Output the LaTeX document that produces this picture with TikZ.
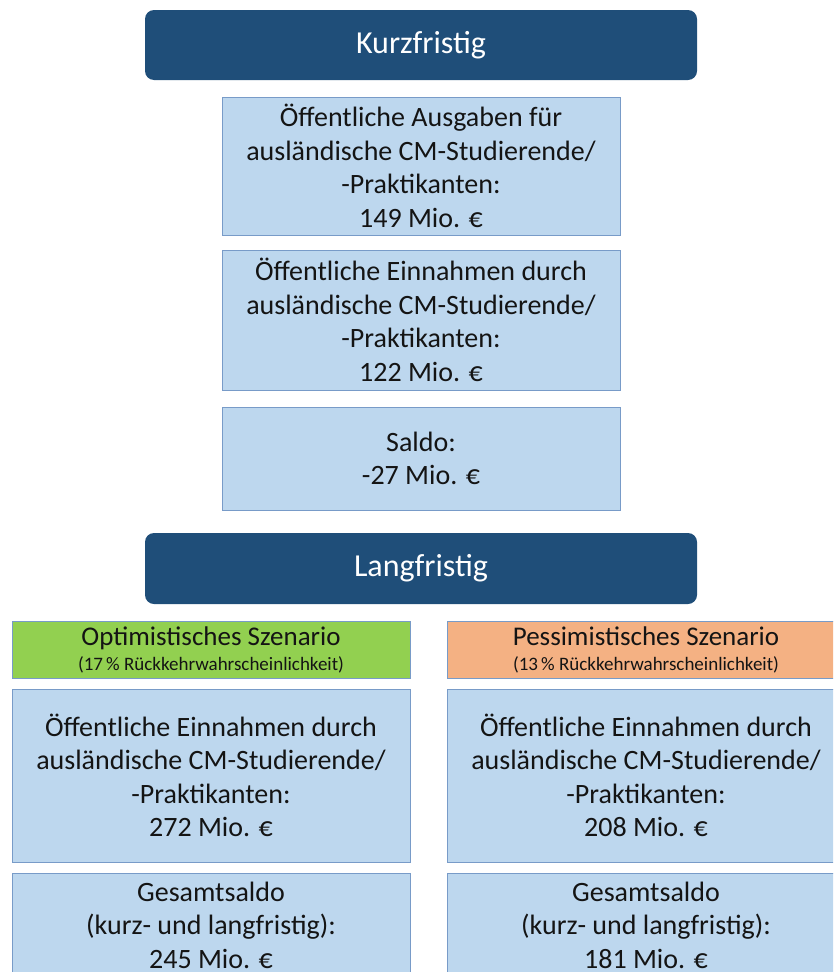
\documentclass[tikz,border=0pt]{standalone}
\usepackage{fontspec}
\setmainfont{Carlito}
\definecolor{headblue}{RGB}{31,78,121}
\definecolor{boxfill}{RGB}{189,215,238}
\definecolor{boxline}{RGB}{120,155,200}
\definecolor{optgreen}{RGB}{146,208,80}
\definecolor{pessorange}{RGB}{244,177,131}
\definecolor{ink}{RGB}{20,20,20}

\begin{document}
\begin{tikzpicture}[x=1pt, y=-1pt,
  head/.style={fill=headblue, rounded corners=9pt, text=white, font=\fontsize{32}{36}\selectfont, inner sep=0pt},
  valbox/.style={fill=boxfill, draw=boxline, line width=1pt, text=ink, align=center, inner sep=0pt, font=\fontsize{28}{33.5}\selectfont},
  scen/.style={draw=boxline, line width=1pt, text=ink, align=center, inner sep=0pt, font=\fontsize{27}{27}\selectfont}]
\useasboundingbox (0,0) rectangle (833,972);
\clip (0,0) rectangle (833,972);
% short term
\node[head, minimum width=552pt, minimum height=70pt] (kurz) at (421,45) {Kurzfristig};
\node[valbox, minimum width=398pt, minimum height=138pt] (ausgaben) at (421,166)
  {Öffentliche Ausgaben für\\ausländische CM-Studierende/\\-Praktikanten:\\149 Mio. €};
\node[valbox, minimum width=398pt, minimum height=140pt] (einnahmen) at (421,320)
  {Öffentliche Einnahmen durch\\ausländische CM-Studierende/\\-Praktikanten:\\122 Mio. €};
\node[valbox, minimum width=398pt, minimum height=103pt] (saldo) at (421,458.5)
  {Saldo:\\-27 Mio. €};
% long term
\node[head, minimum width=552pt, minimum height=71pt] (lang) at (421,568.5) {Langfristig};
\node[scen, fill=optgreen, minimum width=398pt, minimum height=57pt] (opt) at (211,649.5)
  {\raisebox{-2pt}{Optimistisches Szenario}\\\fontsize{19}{27}\selectfont (17\,\% Rückkehrwahrscheinlichkeit)};
\node[scen, fill=pessorange, minimum width=398pt, minimum height=57pt] (pess) at (646,649.5)
  {\raisebox{-2pt}{Pessimistisches Szenario}\\\fontsize{19}{27}\selectfont (13\,\% Rückkehrwahrscheinlichkeit)};
\node[valbox, minimum width=398pt, minimum height=173pt] (optein) at (211,775.5)
  {Öffentliche Einnahmen durch\\ausländische CM-Studierende/\\-Praktikanten:\\272 Mio. €};
\node[valbox, minimum width=398pt, minimum height=173pt] (pessein) at (646,775.5)
  {Öffentliche Einnahmen durch\\ausländische CM-Studierende/\\-Praktikanten:\\208 Mio. €};
\node[valbox, minimum width=398pt, minimum height=104pt] (optges) at (211,925)
  {Gesamtsaldo\\(kurz- und langfristig):\\245 Mio. €};
\node[valbox, minimum width=398pt, minimum height=104pt] (pessges) at (646,925)
  {Gesamtsaldo\\(kurz- und langfristig):\\181 Mio. €};
\end{tikzpicture}
\end{document}
